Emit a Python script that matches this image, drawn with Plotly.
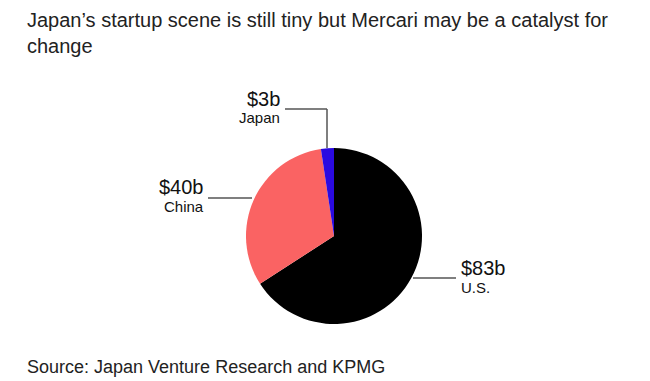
import plotly.graph_objects as go

countries = ["U.S.", "China", "Japan"]
funding = [83, 40, 3]
value_labels = ["$83b", "$40b", "$3b"]
colors = ["#000000", "#fa6363", "#2a0ae0"]

W, H = 650, 381


def px(x):
    return x / W


def py(y):
    return 1 - y / H


fig = go.Figure(go.Pie(
    labels=countries,
    values=funding,
    sort=False,
    direction="clockwise",
    rotation=0,
    marker=dict(colors=colors, line=dict(width=0)),
    textinfo="none",
    hoverinfo="label+value",
    domain=dict(x=[px(246), px(422)], y=[py(324), py(148)]),
))

# label positions (big value + small country name) and leader lines
label_pos = {
    "U.S.": dict(x=459, y=268, anchor="left", line=[(413, 278), (456, 278)]),
    "China": dict(x=206, y=187, anchor="right", line=[(208, 198), (252, 198)]),
    "Japan": dict(x=282, y=99, anchor="right", line=[(285, 109), (327, 109), (327, 148)]),
}

annotations = []
shapes = []
for name, val in zip(countries, value_labels):
    p = label_pos[name]
    annotations.append(dict(
        x=px(p["x"]), y=py(p["y"]), xref="paper", yref="paper",
        text=val, showarrow=False, xanchor=p["anchor"], yanchor="middle",
        font=dict(size=20, color="#111", family="Liberation Sans, Arial"),
    ))
    annotations.append(dict(
        x=px(p["x"]), y=py(p["y"] + 19), xref="paper", yref="paper",
        text=name, showarrow=False, xanchor=p["anchor"], yanchor="middle",
        font=dict(size=15, color="#111", family="Liberation Sans, Arial"),
    ))
    pts = p["line"]
    for (x0, y0), (x1, y1) in zip(pts[:-1], pts[1:]):
        shapes.append(dict(
            type="line", xref="paper", yref="paper",
            x0=px(x0), y0=py(y0), x1=px(x1), y1=py(y1),
            line=dict(color="#555", width=1.5),
        ))

annotations.append(dict(
    x=px(25), y=py(7), xref="paper", yref="paper", xanchor="left", yanchor="top",
    text="Japan\u2019s startup scene is still tiny but Mercari may be a catalyst for<br>change",
    showarrow=False, align="left",
    font=dict(size=20, color="#222", family="Liberation Sans, Arial"),
))
annotations.append(dict(
    x=px(25), y=py(367), xref="paper", yref="paper", xanchor="left", yanchor="middle",
    text="Source: Japan Venture Research and KPMG", showarrow=False,
    font=dict(size=18, color="#222", family="Liberation Sans, Arial"),
))

fig.update_layout(
    width=W, height=H,
    margin=dict(l=0, r=0, t=0, b=0),
    paper_bgcolor="white",
    plot_bgcolor="white",
    showlegend=False,
    annotations=annotations,
    shapes=shapes,
)

fig.write_html("out.html", config={"displayModeBar": False},
               post_script="document.body.style.margin='0';")
